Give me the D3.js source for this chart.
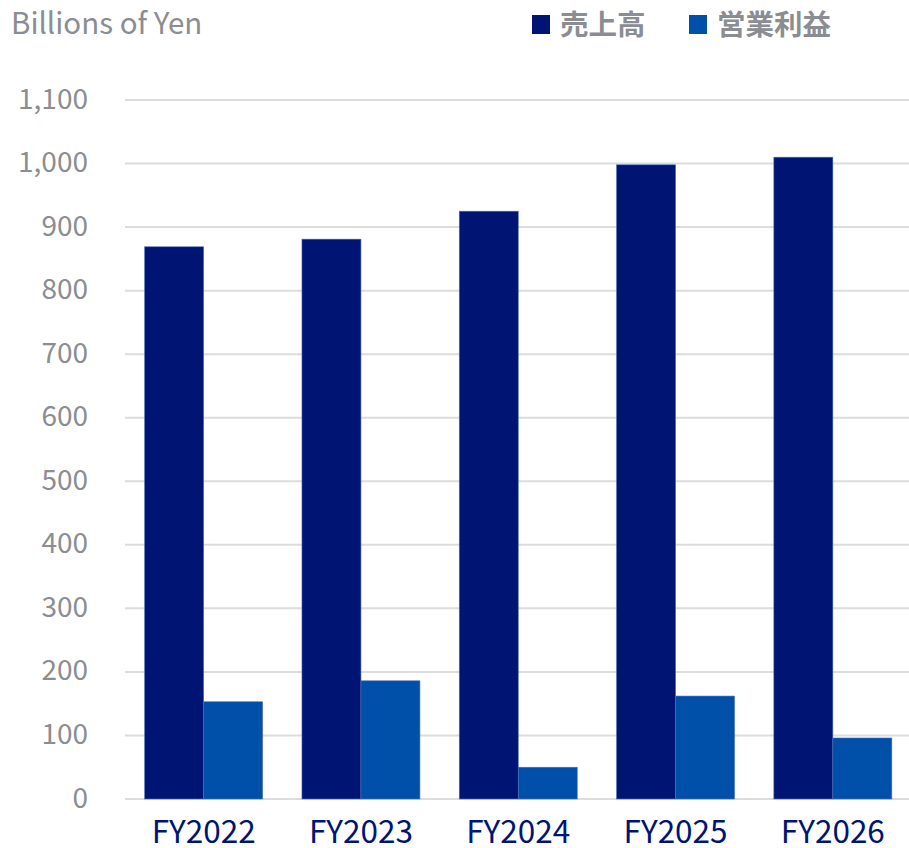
<!DOCTYPE html>
<html>
<head>
<meta charset="utf-8">
<script src="https://cdn.jsdelivr.net/npm/d3@7"></script>
<style>
  body { margin: 0; background: #fff; }
  svg text { font-family: "Noto Sans CJK JP", "Noto Sans", sans-serif; }
</style>
</head>
<body>
<div id="chart"></div>
<script>
const years = ["FY2022", "FY2023", "FY2024", "FY2025", "FY2026"];
const seriesNames = ["売上高", "営業利益"];
const sales = [869, 881, 925, 998, 1010];
const operatingProfit = [153, 186, 50, 162, 96];
const yTicks = [0, 100, 200, 300, 400, 500, 600, 700, 800, 900, 1000, 1100];

const colors = ["#001473", "#0050aa"];
const gray = "#8a8d91";

const width = 909, height = 848;
const x0 = 125, x1 = 911.5, yTop = 100, yBottom = 799;

const svg = d3.select("#chart").append("svg")
    .attr("width", width)
    .attr("height", height);

const x = d3.scaleBand().domain(years).range([x0, x1]).paddingInner(0.25).paddingOuter(0.125);
const xs = d3.scaleBand().domain(seriesNames).range([0, x.bandwidth()]);
const y = d3.scaleLinear().domain([0, 1100]).range([yBottom, yTop]);

// gridlines
svg.append("g").selectAll("line")
    .data(yTicks)
    .enter().append("line")
    .attr("x1", x0).attr("x2", width)
    .attr("y1", d => y(d)).attr("y2", d => y(d))
    .style("stroke", "#dcdcdc")
    .style("stroke-width", 2);

// y labels
svg.append("g").selectAll("text")
    .data(yTicks)
    .enter().append("text")
    .attr("x", 88)
    .attr("y", d => y(d) + 8.5)
    .style("text-anchor", "end")
    .style("font-size", "28px")
    .style("fill", gray)
    .text(d => d3.format(",")(d));

// bars
const rows = years.map((yr, i) => ({ year: yr, values: [sales[i], operatingProfit[i]] }));
const group = svg.append("g").selectAll("g")
    .data(rows)
    .enter().append("g")
    .attr("transform", d => "translate(" + x(d.year) + ",0)");

group.selectAll("rect")
    .data(d => d.values.map((v, k) => ({ name: seriesNames[k], value: v, k: k })))
    .enter().append("rect")
    .attr("x", d => xs(d.name))
    .attr("y", d => y(d.value))
    .attr("width", xs.bandwidth())
    .attr("height", d => yBottom - y(d.value))
    .style("fill", d => colors[d.k])
    .style("stroke", "#4a6fb8")
    .style("stroke-width", 0.6);

// x labels
svg.append("g").selectAll("text")
    .data(years)
    .enter().append("text")
    .attr("x", d => x(d) + x.bandwidth() / 2)
    .attr("y", 843)
    .style("text-anchor", "middle")
    .style("font-size", "31.5px")
    .style("fill", "#001473")
    .text(d => d);

// unit title
svg.append("text")
    .attr("x", 11)
    .attr("y", 34)
    .style("font-size", "29.5px")
    .style("fill", gray)
    .text("Billions of Yen");

// legend
const legendX = [532, 689];
const legend = svg.append("g").selectAll("g")
    .data(seriesNames)
    .enter().append("g")
    .attr("transform", (d, i) => "translate(" + legendX[i] + ",15)");
legend.append("rect")
    .attr("width", 18).attr("height", 19)
    .style("fill", (d, i) => colors[i]);
legend.append("text")
    .attr("x", 28)
    .attr("y", 20)
    .style("font-size", "28.5px")
    .style("font-weight", 700)
    .style("fill", gray)
    .text(d => d);
</script>
</body>
</html>
